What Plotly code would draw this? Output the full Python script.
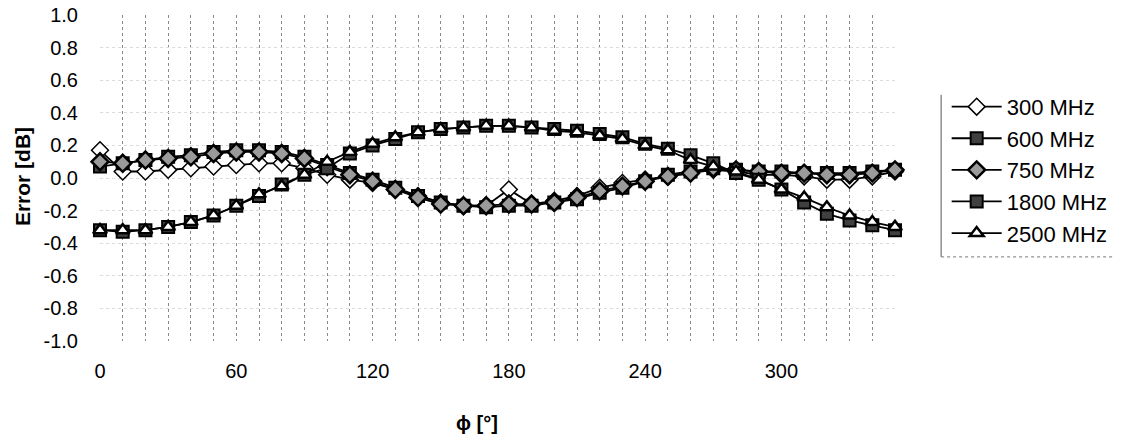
import plotly.graph_objects as go

# angle phi in degrees
phi = list(range(0, 360, 10))

# error values in dB
err_300 = [0.17, 0.04, 0.04, 0.05, 0.06, 0.07, 0.08, 0.09, 0.09, 0.06,
           0.02, -0.01, -0.03, -0.07, -0.11, -0.15, -0.17, -0.17, -0.07, -0.16,
           -0.14, -0.11, -0.06, -0.03, -0.01, 0.01, 0.03, 0.05, 0.04, 0.02,
           0.02, 0.01, -0.01, -0.01, 0.01, 0.04]
err_600 = [0.07, 0.09, 0.11, 0.13, 0.14, 0.16, 0.17, 0.17, 0.16, 0.13,
           0.08, 0.03, -0.01, -0.06, -0.11, -0.15, -0.17, -0.18, -0.17, -0.17,
           -0.15, -0.13, -0.09, -0.06, -0.02, 0.02, 0.04, 0.06, 0.05, 0.04,
           0.04, 0.03, 0.03, 0.03, 0.04, 0.05]
err_750 = [0.10, 0.09, 0.11, 0.12, 0.13, 0.15, 0.16, 0.16, 0.15, 0.12,
           0.07, 0.02, -0.02, -0.07, -0.12, -0.16, -0.17, -0.17, -0.16, -0.16,
           -0.15, -0.12, -0.08, -0.05, -0.02, 0.01, 0.03, 0.06, 0.05, 0.04,
           0.03, 0.03, 0.02, 0.02, 0.03, 0.05]
err_1800 = [-0.32, -0.33, -0.32, -0.30, -0.27, -0.23, -0.17, -0.11, -0.04, 0.02,
            0.06, 0.15, 0.20, 0.24, 0.28, 0.30, 0.31, 0.32, 0.32, 0.31,
            0.30, 0.29, 0.27, 0.25, 0.21, 0.18, 0.14, 0.09, 0.03, -0.01,
            -0.07, -0.15, -0.22, -0.26, -0.29, -0.32]
err_2500 = [-0.32, -0.32, -0.32, -0.30, -0.27, -0.23, -0.17, -0.10, -0.05, 0.02,
            0.10, 0.16, 0.21, 0.25, 0.28, 0.30, 0.31, 0.32, 0.32, 0.31,
            0.29, 0.28, 0.26, 0.24, 0.20, 0.17, 0.11, 0.07, 0.04, -0.01,
            -0.07, -0.12, -0.18, -0.23, -0.27, -0.30]

series_names = ['300 MHz', '600 MHz', '750 MHz', '1800 MHz', '2500 MHz']
x_ticks = [0, 60, 120, 180, 240, 300]
y_ticks = [-1.0, -0.8, -0.6, -0.4, -0.2, 0.0, 0.2, 0.4, 0.6, 0.8, 1.0]
y_labels = ['-1.0', '-0.8', '-0.6', '-0.4', '-0.2', '0.0', '0.2', '0.4', '0.6', '0.8', '1.0']

FONT = 'Liberation Sans, Arial, sans-serif'

styles = [
    dict(symbol='diamond', size=13, color='white', line=dict(color='black', width=1.5)),
    dict(symbol='square', size=12, color='#404040', line=dict(color='black', width=2)),
    dict(symbol='diamond', size=13, color='#9a9a9a', line=dict(color='black', width=2.5)),
    dict(symbol='square', size=12, color='#404040', line=dict(color='black', width=2)),
    dict(symbol='triangle-up', size=12, color='white', line=dict(color='black', width=2.5)),
]

fig = go.Figure()
for name, ys, mk in zip(series_names, [err_300, err_600, err_750, err_1800, err_2500], styles):
    fig.add_trace(go.Scatter(x=phi, y=ys, name=name, mode='lines+markers',
                             line=dict(color='black', width=1.8),
                             marker=mk, cliponaxis=False))

fig.update_xaxes(range=[0, 350], tickvals=x_ticks, showline=False, zeroline=False,
                 automargin=False,
                 showgrid=True, gridcolor='#8a8a8a', griddash='dot', gridwidth=1,
                 ticks='outside', ticklen=12, tickcolor='rgba(0,0,0,0)',
                 minor=dict(dtick=10, tick0=0, showgrid=True, gridcolor='#8a8a8a', griddash='dot'),
                 tickfont=dict(family=FONT, size=20, color='black'))
fig.update_yaxes(range=[-1, 1], tickvals=y_ticks, ticktext=y_labels, showline=False, zeroline=False,
                 automargin=False,
                 showgrid=True, gridcolor='#dcdcdc', griddash='dot', gridwidth=1,
                 ticks='outside', ticklen=17, tickcolor='rgba(0,0,0,0)',
                 tickfont=dict(family=FONT, size=20, color='black'))

fig.add_annotation(text='<b>Error [dB]</b>', xref='paper', yref='paper', x=-0.098, y=0.503,
                   xanchor='center', yanchor='middle',
                   textangle=-90, showarrow=False, font=dict(family=FONT, size=21, color='black'))
fig.add_annotation(text='<b>ϕ [°]</b>', xref='paper', yref='paper', x=0.4745, y=-0.2515,
                   xanchor='center', yanchor='middle',
                   showarrow=False, font=dict(family=FONT, size=20, color='black'))

# legend frame: solid left edge, dotted bottom edge
fig.add_shape(type='line', xref='paper', yref='paper', x0=1.058, x1=1.058, y0=0.258, y1=0.755,
              line=dict(color='#555', width=1))
fig.add_shape(type='line', xref='paper', yref='paper', x0=1.058, x1=1.275, y0=0.258, y1=0.258,
              line=dict(color='#777', width=1, dash='dot'))

fig.update_layout(
    width=1125, height=439,
    margin=dict(l=100, r=220, t=15, b=98),
    paper_bgcolor='white', plot_bgcolor='white',
    showlegend=True,
    legend=dict(x=1.065, y=0.525, xanchor='left', yanchor='middle', itemwidth=50,
                font=dict(family=FONT, size=22, color='black'),
                bgcolor='rgba(0,0,0,0)', tracegroupgap=0),
)

# the page's default 8px body margin would shift the figure
fig.write_html("out.html", config={'displayModeBar': False},
               post_script="document.body.style.margin='0';")
